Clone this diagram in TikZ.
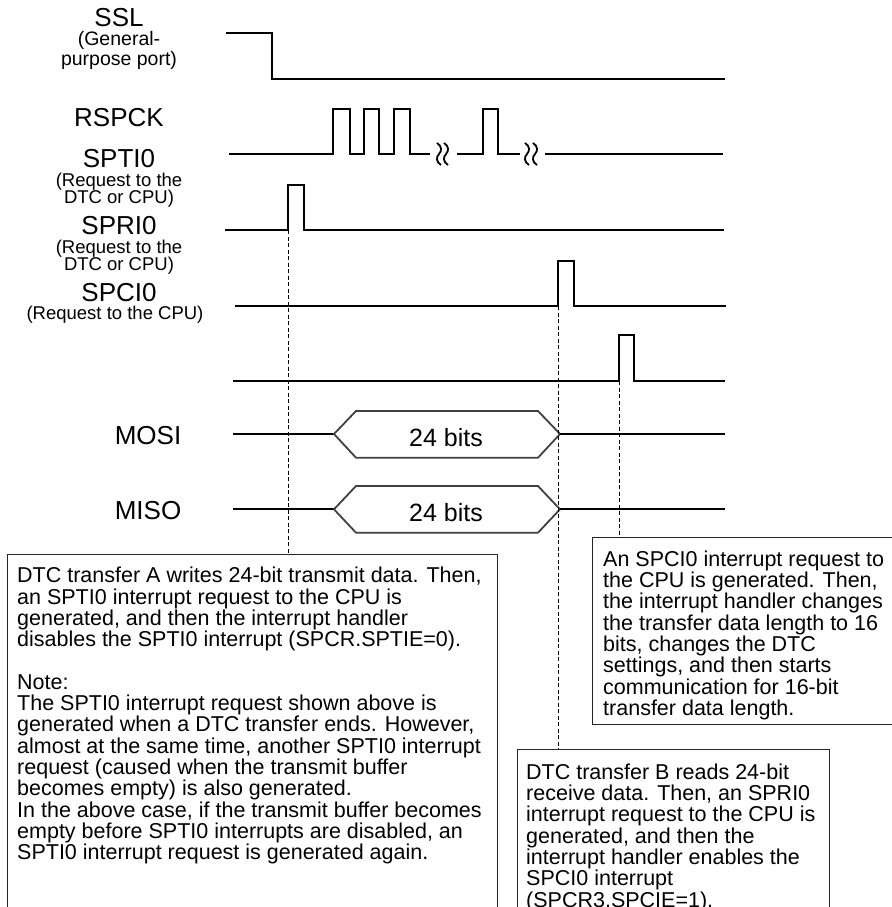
\documentclass[tikz,border=0pt]{standalone}
\usepackage{fontspec}
\setmainfont{Liberation Sans}
\usetikzlibrary{positioning}

\begin{document}
\begin{tikzpicture}[
  x=1pt, y=-1pt,
  signame/.style={font=\fontsize{26}{30}\selectfont, inner sep=0pt, anchor=base},
  sigsub/.style={font=\fontsize{18.5}{16}\selectfont, inner sep=0pt, anchor=base},
  wave/.style={line width=2.2pt, line join=miter},
  bus/.style={line width=1.8pt, draw=black!75},
  guide/.style={line width=0.9pt, dash pattern=on 4pt off 2.5pt},
  notebox/.style={draw=black!85, line width=1.2pt, anchor=north west, inner sep=0pt},
  notetext/.style={font=\fontsize{21.5}{21.3}\selectfont, align=left, anchor=north west, inner sep=0pt},
  gapmark/.pic={
    \draw[line width=1.8pt] (-2,-11) .. controls (3,-8) and (3,-3) .. (0,0) .. controls (-3,3) and (-3,8) .. (2,11);
  }
]
\useasboundingbox (0,0) rectangle (891,907);

% signal names
\node[signame] (ssl) at (119,27) {SSL};
\node[sigsub, font=\fontsize{19.5}{16}\selectfont] (sslsub) at (119,46) {(General-};
\node[sigsub, font=\fontsize{19.5}{16}\selectfont] (sslsubb) at (119,65.5) {purpose port)};
\node[signame] (rspck) at (119,126.3) {RSPCK};
\node[signame] (spti) at (119,167.5) {SPTI0};
\node[sigsub] (sptisub) at (119,186) {(Request to the};
\node[sigsub] (sptisubb) at (119,203.5) {DTC or CPU)};
\node[signame] (spri) at (119,234.5) {SPRI0};
\node[sigsub] (sprisub) at (119,253) {(Request to the};
\node[sigsub] (sprisubb) at (119,270.5) {DTC or CPU)};
\node[signame] (spci) at (119,301) {SPCI0};
\node[sigsub] (spcisub) at (115,319.5) {(Request to the CPU)};
\node[signame] (mosi) at (148,444) {MOSI};
\node[signame] (miso) at (148,519) {MISO};

% waveforms
\draw[wave] (226,33) -- (272,33) -- (272,79) -- (725,79);
\draw[wave] (229,154) -- (333,154) -- (333,109) -- (350,109) -- (350,154) -- (364,154) -- (364,109)
  -- (379,109) -- (379,154) -- (394,154) -- (394,109) -- (410,109) -- (410,154) -- (430,154);
\pic at (439,154) {gapmark};
\pic at (446,154) {gapmark};
\draw[wave] (457,154) -- (483,154) -- (483,109) -- (498,109) -- (498,154) -- (520,154);
\pic at (527,154) {gapmark};
\pic at (535,154) {gapmark};
\draw[wave] (545,154) -- (723,154);
\draw[wave] (225,230) -- (288,230) -- (288,185) -- (304,185) -- (304,230) -- (724,230);
\draw[wave] (235,306) -- (558,306) -- (558,261) -- (574,261) -- (574,306) -- (726,306);
\draw[wave] (233,381) -- (619,381) -- (619,335) -- (634,335) -- (634,381) -- (725,381);

% data buses
\draw[wave] (233,434) -- (334,434);
\draw[bus] (334,434) -- (356,411) -- (538,411) -- (560,434) -- (538,457.7) -- (356,457.7) -- cycle;
\draw[wave] (560,434) -- (725,434);
\node[signame, font=\fontsize{25}{30}\selectfont] (mosibits) at (446,446) {24 bits};
\draw[wave] (233,509.3) -- (334,509.3);
\draw[bus] (334,509.3) -- (356,486) -- (538,486) -- (560,509.3) -- (538,532.7) -- (356,532.7) -- cycle;
\draw[wave] (560,509.3) -- (725,509.3);
\node[signame, font=\fontsize{25}{30}\selectfont] (misobits) at (446,521.5) {24 bits};

% notes
\node[notebox, minimum width=490pt, minimum height=400pt] (boxA) at (7,554) {};
\node[notetext] (textA) at (17,567) {DTC transfer A writes 24-bit transmit data. Then,\\
an SPTI0 interrupt request to the CPU is\\
generated, and then the interrupt handler\\
disables the SPTI0 interrupt (SPCR.SPTIE=0).\\[21.3pt]
Note:\\
The SPTI0 interrupt request shown above is\\
generated when a DTC transfer ends. However,\\
almost at the same time, another SPTI0 interrupt\\
request (caused when the transmit buffer\\
becomes empty) is also generated.\\
In the above case, if the transmit buffer becomes\\
empty before SPTI0 interrupts are disabled, an\\
SPTI0 interrupt request is generated again.};

\node[notebox, minimum width=312pt, minimum height=200pt] (boxB) at (517,749) {};
\node[notetext] (textB) at (526,763.5) {DTC transfer B reads 24-bit\\
receive data. Then, an SPRI0\\
interrupt request to the CPU is\\
generated, and then the\\
interrupt handler enables the\\
SPCI0 interrupt\\
(SPCR3.SPCIE=1).};

\node[notebox, minimum width=320pt, minimum height=187pt] (boxC) at (592,537) {};
\node[notetext] (textC) at (603,550.5) {An SPCI0 interrupt request to\\
the CPU is generated. Then,\\
the interrupt handler changes\\
the transfer data length to 16\\
bits, changes the DTC\\
settings, and then starts\\
communication for 16-bit\\
transfer data length.};

% guides
\coordinate (tirise) at (288,230);
\coordinate (ririse) at (558.5,306);
\coordinate (cirise) at (619,381);
\draw[guide] (tirise) -- (tirise |- boxA.north);
\draw[guide] (ririse) -- (ririse |- boxB.north);
\draw[guide] (cirise) -- (cirise |- boxC.north);
\end{tikzpicture}
\end{document}
